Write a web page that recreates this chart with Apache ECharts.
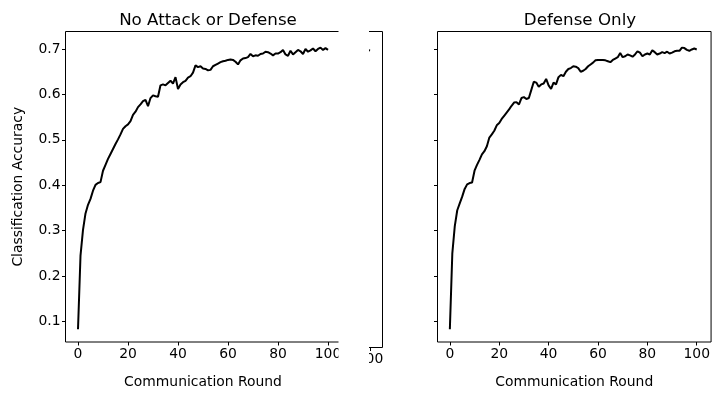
<!DOCTYPE html>
<html><head><meta charset="utf-8">
<script src="https://cdn.jsdelivr.net/npm/echarts@6/dist/echarts.min.js"></script>
<style>html,body{margin:0;padding:0;background:#fff;}#c{width:713px;height:394px;}</style>
</head><body><div id="c"></div>
<script>
const rounds = [0,1,2,3,4,5,6,7,8,9,10,11,12,13,14,15,16,17,18,19,20,21,22,23,24,25,26,27,28,29,30,31,32,33,34,35,36,37,38,39,40,41,42,43,44,45,46,47,48,49,50,51,52,53,54,55,56,57,58,59,60,61,62,63,64,65,66,67,68,69,70,71,72,73,74,75,76,77,78,79,80,81,82,83,84,85,86,87,88,89,90,91,92,93,94,95,96,97,98,99,100];
const noAttackAcc = [0.083,0.245,0.302,0.338,0.357,0.370,0.388,0.401,0.405,0.407,
 0.432,0.445,0.458,0.469,0.480,0.491,0.501,0.512,0.524,0.530,
 0.534,0.541,0.555,0.562,0.572,0.578,0.585,0.588,0.574,0.592,
 0.598,0.596,0.595,0.620,0.622,0.620,0.625,0.630,0.624,0.638,
 0.612,0.622,0.627,0.630,0.637,0.640,0.648,0.664,0.660,0.662,
 0.657,0.656,0.653,0.654,0.662,0.665,0.668,0.671,0.673,0.674,
 0.676,0.677,0.676,0.672,0.666,0.675,0.679,0.680,0.682,0.689,
 0.684,0.686,0.685,0.689,0.690,0.694,0.693,0.690,0.686,0.690,
 0.690,0.693,0.698,0.688,0.685,0.696,0.688,0.693,0.698,0.695,
 0.689,0.700,0.694,0.697,0.701,0.695,0.700,0.703,0.698,0.702,0.698];
const defenseAcc = [0.083,0.250,0.310,0.345,0.360,0.375,0.392,0.402,0.405,0.406,
 0.432,0.445,0.456,0.468,0.475,0.486,0.505,0.512,0.520,0.532,
 0.537,0.546,0.553,0.560,0.567,0.575,0.582,0.583,0.578,0.592,
 0.594,0.590,0.592,0.610,0.628,0.626,0.617,0.622,0.624,0.634,
 0.620,0.612,0.626,0.622,0.638,0.643,0.640,0.650,0.656,0.658,
 0.662,0.661,0.658,0.650,0.652,0.656,0.662,0.666,0.670,0.675,
 0.676,0.676,0.676,0.675,0.673,0.671,0.676,0.679,0.682,0.691,
 0.682,0.684,0.688,0.686,0.683,0.688,0.695,0.692,0.684,0.688,
 0.690,0.688,0.697,0.693,0.688,0.690,0.693,0.691,0.694,0.690,
 0.692,0.695,0.696,0.696,0.703,0.702,0.698,0.696,0.699,0.701,0.699];
const middleRounds = [99,100];
const middleAcc = [0.699,0.697];
const xTicks = [0,20,40,60,80,100];
const yTicks = [0.1,0.2,0.3,0.4,0.5,0.6,0.7];
const titles = ['No Attack or Defense','Defense Only'];
const xName = 'Communication Round';
const yName = 'Classification Accuracy';

const FONT = 'DejaVu Sans';
const FS = 13.9;
const yMin = 0.055, yMax = 0.7385;
const pairs = (xs, ys) => xs.map((x,i)=>[x, ys[i]]);
const tickStyle = {show:true, inside:false, length:3.5, lineStyle:{color:'#000', width:1}};
function xAx(gi, min, max, ticks, name){
  return {gridIndex:gi, type:'value', min:min, max:max, position:'bottom',
    axisLine:{show:false, onZero:false}, splitLine:{show:false},
    axisTick:Object.assign({customValues:ticks}, tickStyle),
    axisLabel:{customValues:ticks, color:'#000', fontFamily:FONT, fontSize:FS, margin:5},
    name:name||'', nameLocation:'middle', nameGap:33,
    nameTextStyle:{color:'#000', fontFamily:FONT, fontSize:FS}};
}
function yAx(gi, showLabels, showTicks, name){
  return {gridIndex:gi, type:'value', min:yMin, max:yMax, position:'left',
    axisLine:{show:false, onZero:false}, splitLine:{show:false},
    axisTick:Object.assign({customValues:yTicks}, tickStyle, {show:showTicks}),
    axisLabel:{show:showLabels, customValues:yTicks, color:'#000', fontFamily:FONT, fontSize:FS, margin:5,
      formatter:v=>v.toFixed(1)},
    name:name||'', nameLocation:'middle', nameGap:40,
    nameTextStyle:{color:'#000', fontFamily:FONT, fontSize:FS}};
}
const lineS = (xi, data) => ({type:'line', xAxisIndex:xi, yAxisIndex:xi, data:data,
  showSymbol:false, symbol:'none', lineStyle:{color:'#000', width:2}, itemStyle:{color:'#000'}, clip:true, animation:false});

const chart = echarts.init(document.getElementById('c'), null, {renderer:'canvas'});
chart.setOption({
  animation:false,
  backgroundColor:'#fff',
  title:[
    {text:titles[0], left:203, top:7, textAlign:'center', textStyle:{fontFamily:FONT, fontSize:16.7, fontWeight:'normal', color:'#000'}},
    {text:titles[1], left:575, top:7, textAlign:'center', textStyle:{fontFamily:FONT, fontSize:16.7, fontWeight:'normal', color:'#000'}}
  ],
  grid:[
    {left:65.5, top:31.5, width:275, height:316, show:true, borderColor:'#000', borderWidth:1, backgroundColor:'transparent'},
    {left:367, top:31.5, width:15.5, height:316, show:true, borderColor:'#000', borderWidth:1, backgroundColor:'transparent'},
    {left:437.5, top:31.5, width:277, height:316, show:true, borderColor:'#000', borderWidth:1, backgroundColor:'transparent'}
  ],
  xAxis:[ xAx(0,-5,105,xTicks,xName), xAx(1,98.8,105,[100]), xAx(2,-5,105.8,xTicks,xName) ],
  yAxis:[ yAx(0,true,true,yName), yAx(1,false,false), yAx(2,false,true) ],
  series:[ lineS(0,pairs(rounds,noAttackAcc)), lineS(1,pairs(middleRounds,middleAcc)), lineS(2,pairs(rounds,defenseAcc)) ],
  graphic:[{type:'rect', z:1000, zlevel:0, shape:{x:338.5, y:0, width:30.5, height:394}, style:{fill:'#fff'}}]
});
</script></body></html>
